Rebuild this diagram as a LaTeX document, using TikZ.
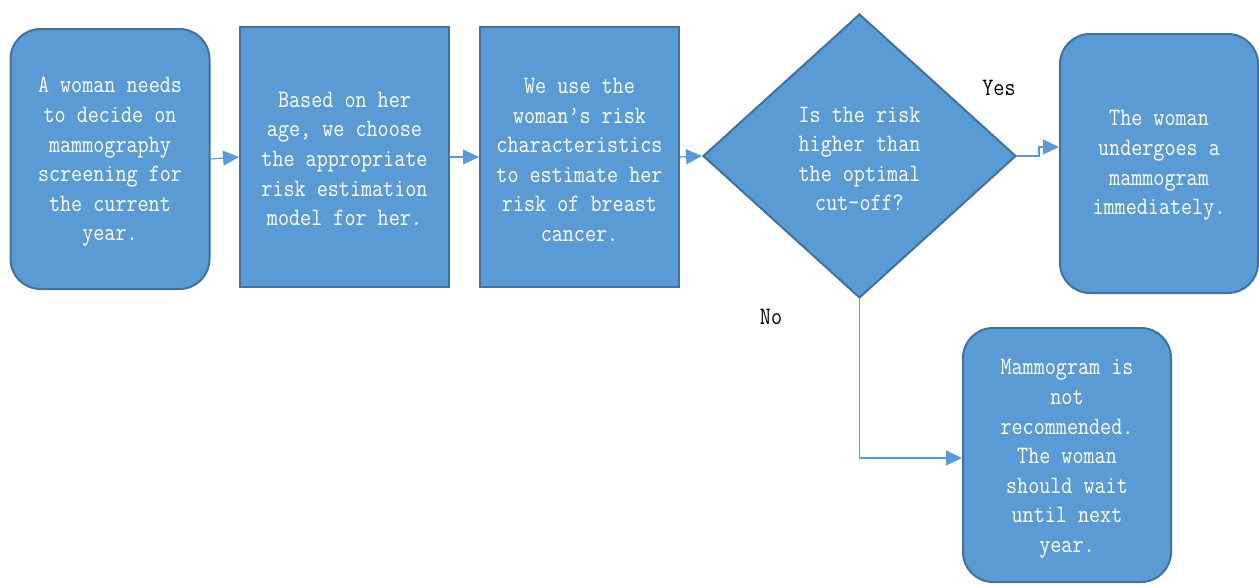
\documentclass[tikz,border=0pt]{standalone}
\usepackage{fontspec}
\usetikzlibrary{shapes.geometric,arrows.meta}
\newfontfamily\boxfont[FakeStretch=0.86]{Latin Modern Mono}
\definecolor{boxfill}{HTML}{5B9BD5}
\definecolor{boxedge}{HTML}{41719C}
\definecolor{arrowcol}{HTML}{5B9BD5}
\begin{document}
\begin{tikzpicture}[x=1pt,y=-1pt,
  txt/.style={font=\boxfont\fontsize{25}{29.6}\selectfont, text=white, align=center},
  shapebox/.style={fill=boxfill, draw=boxedge, line width=2pt, inner sep=0pt},
  roundbox/.style={shapebox, rectangle, rounded corners=30pt},
  sqbox/.style={shapebox, rectangle},
  decision/.style={shapebox, diamond},
  link/.style={draw=arrowcol, line width=1.2pt, -{Triangle[length=16pt,width=15pt]}},
  lbl/.style={font=\boxfont\fontsize{25}{29.6}\selectfont, text=black}
]
\useasboundingbox (0,0) rectangle (1259,584);

% shapes
\node[roundbox, minimum width=199pt, minimum height=260pt] (start) at (110,159) {};
\node[sqbox, minimum width=209pt, minimum height=260pt] (model) at (344.5,157) {};
\node[sqbox, minimum width=199pt, minimum height=260pt] (estimate) at (579.5,157) {};
\node[decision, minimum width=313pt, minimum height=284pt] (check) at (859.5,156) {};
\node[roundbox, minimum width=198pt, minimum height=259pt] (screen) at (1159,163.5) {};
\node[roundbox, minimum width=208pt, minimum height=254pt] (wait) at (1067,455) {};

% texts inside the shapes
\node[txt] (start-t) at ([yshift=-3pt]start.center)
  {A woman needs\\to decide on\\mammography\\screening for\\the current\\year.};
\node[txt] (model-t) at ([yshift=-2pt]model.center)
  {Based on her\\age, we choose\\the appropriate\\risk estimation\\model for her.};
\node[txt] (estimate-t) at ([yshift=-3pt]estimate.center)
  {We use the\\woman’s risk\\characteristics\\to estimate her\\risk of breast\\cancer.};
\node[txt] (check-t) at ([yshift=-3pt]check.center)
  {Is the risk\\higher than\\the optimal\\cut-off?};
\node[txt] (screen-t) at ([yshift=-2pt]screen.center)
  {The woman\\undergoes a\\mammogram\\immediately.};
\node[txt] (wait-t) at ([yshift=-4pt]wait.center)
  {Mammogram is\\not\\recommended.\\The woman\\should wait\\until next\\year.};

\node[lbl] (yes) at (999,88) {Yes};
\node[lbl] (no) at (771,317) {No};

\draw[link] (start.east) -- (model.west);
\draw[link] (model.east) -- (estimate.west);
\draw[link] (estimate.east) -- (check.west);
\draw[link] (check.east) -- ++(22,0) |- ([yshift=16.5pt]screen.west);
\draw[link] (check.south) |- ([yshift=-3pt]wait.west);
\end{tikzpicture}
\end{document}
